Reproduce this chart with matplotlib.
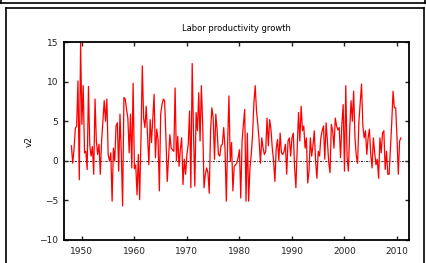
import numpy as np
import matplotlib
matplotlib.use('Agg')
import matplotlib.pyplot as plt
from matplotlib.lines import Line2D

# quarterly labor productivity growth, 1948Q1 - 2010Q4
start_year = 1948
v2 = [
    1.9, -0.3, 1.5, 4.1, 4.4, 10.1, -2.4, 15.0, 4.6, 9.5, 1.0, 1.2, -1.1, 9.4, 2.0, 0.6,
    1.8, -1.7, 7.8, 2.5, 0.8, 2.1, -1.7, 2.5, 5.0, 7.6, 5.0, 7.8, 0.8, 0.0, 1.0, -5.1,
    1.6, 0.0, 4.4, 4.8, -1.3, 5.9, 1.0, -5.7, 8.0, 7.8, 6.5, 5.4, 1.0, 5.9, -0.9, 9.8,
    -1.0,
    -0.5, -4.3, 0.8, -4.9, 2.9, 12.0, 5.4, 4.2, 6.9, 3.3, -0.5, 5.2, 2.3, 5.4, 8.4, 0.4,
    4.0, 2.7, -3.8, 5.9, 7.1, 7.8, 7.6, 2.9, -2.6, 0.4, 3.3, 1.6, 1.4, 1.2, 9.2, 0.0,
    3.1, -0.7, 1.5, 2.9, -3.0, 0.2, -1.7, 0.8, 2.1, 6.3, -3.4, 12.3, 3.5, -3.2, 6.1, 3.8,
    8.6, 2.5, 9.5, 4.6, -3.4,
    -1.7, -0.9, -1.5, -4.1, 3.8, 6.7, 5.4, 0.2, 5.9, 3.8, 0.8, 0.6, 1.9, 2.1, 4.2, 1.6,
    -5.1, 2.3, 8.2, -0.1, 2.3, -3.8, -0.7, -0.5, -0.3, 0.4, 1.4, -4.7, 2.5, 4.6, 6.5, -5.1,
    3.5, -5.1, -0.9, 0.8, 3.3, 7.3, 9.5, 6.3, 4.6, 2.5, -0.3, 2.9, 1.6, 0.8, 1.2, 5.4,
    1.9, 5.2, 4.0,
    1.6, 0.0, -2.6, 1.6, 2.7, 0.0, 3.5, 1.0, 0.8, 1.2, 2.1, -1.7, 2.5, 2.9, 0.6, 2.9,
    3.5, -0.8, -3.4, 1.6, 6.1, 2.5, 6.9, 3.8, 4.4, 1.6, 2.9, -2.8, -1.3, 2.9, 0.6, 1.9,
    3.8, 0.0, -2.2, 1.2, 0.6, 2.9, 3.8, 4.4, 0.2, 4.8, 2.5, -0.2, -1.5, 4.6, 3.8, 1.6,
    5.4, 4.4, 3.9, 4.2, 0.4,
    4.6, 7.1, -1.3, 9.5, 0.4, -1.3, 4.0, 7.6, 5.0, 8.8, 2.9, 0.6, -0.3, 5.0, 7.3, 9.7,
    4.4, 2.9, 3.8, 0.8, 2.9, 4.0, 0.8, -0.9, 2.9, 1.0, -0.5, 0.2, -2.2, 2.9, 1.0, 3.5,
    3.8, -1.1, 1.2, -1.7, -1.7, 1.6, 4.8, 8.8, 6.7, 6.7, 2.9, -1.7, 2.5, 2.9,
]
x_ticks = [1950, 1960, 1970, 1980, 1990, 2000, 2010]
y_ticks = [-10, -5, 0, 5, 10, 15]

t = start_year + np.arange(len(v2)) / 4.0

fig = plt.figure(figsize=(4.27, 2.63), dpi=100)
ax = fig.add_axes([0.150, 0.0875, 0.808, 0.7525])

ax.axhline(0, color='#333333', lw=0.8, dashes=(2, 1, 0.6, 1))
ax.plot(t, v2, color='#ff0000', lw=0.9)

ax.set_xlim(1946.6, 2012.3)
ax.set_ylim(-10, 15)
ax.set_xticks(x_ticks)
ax.set_yticks(y_ticks)
ax.tick_params(direction='in', length=3, width=1, top=True, right=True,
               labelsize=6.5, colors='#222222', pad=4)
ax.tick_params(axis='x', pad=5)
for s in ax.spines.values():
    s.set_linewidth(1.3)
ax.set_ylabel('v2', fontsize=6.5, labelpad=4)
ax.set_title('Labor productivity growth', fontsize=6, pad=8)

# window frames around the plot
W, H = 427.0, 263.0
def fl(x0, y0, x1, y1):
    fig.add_artist(Line2D([x0 / W, x1 / W], [1 - y0 / H, 1 - y1 / H],
                          color='black', lw=1.2, transform=fig.transFigure))
fl(0.5, 0, 0.5, 2.5)
fl(425.5, 0, 425.5, 2.5)
fl(0, 2.5, 427, 2.5)
fl(6.5, 7.5, 424.5, 7.5)
fl(6.5, 7.5, 6.5, 263)
fl(424.5, 7.5, 424.5, 263)

fig.savefig('out.png', dpi=100)
